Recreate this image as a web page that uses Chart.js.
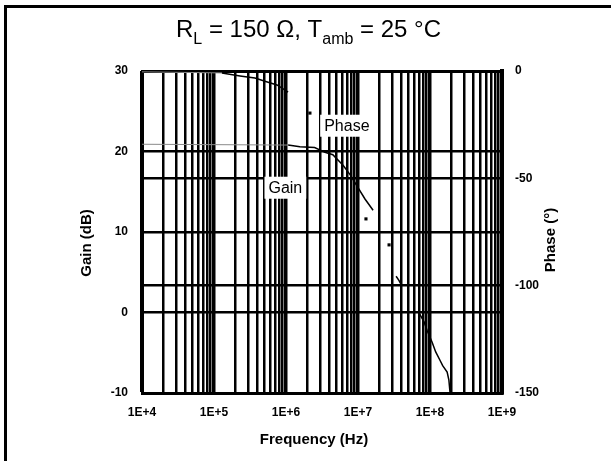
<!DOCTYPE html>
<html><head><meta charset="utf-8">
<script src="https://cdn.jsdelivr.net/npm/chart.js@4"></script>
<style>
html,body{margin:0;padding:0;background:#fff;overflow:hidden;}
#wrap{position:relative;width:611px;height:461px;overflow:hidden;background:#fff;}
canvas{position:absolute;left:0;top:0;}
#ftop{position:absolute;left:4px;top:5px;width:607px;height:3px;background:#000;}
#fleft{position:absolute;left:4px;top:5px;width:3px;height:456px;background:#000;}
#title{position:absolute;left:0;top:15px;width:617px;text-align:center;font-family:"Liberation Sans",Arial,sans-serif;font-size:24px;line-height:27px;color:#000;white-space:nowrap;}
#title sub{font-size:16px;vertical-align:-7px;line-height:0;}
</style></head>
<body>
<div id="wrap">
<canvas id="c" width="611" height="461"></canvas>
<div id="ftop"></div><div id="fleft"></div>
<div id="title">R<sub>L</sub> = 150 Ω, T<sub>amb</sub> = 25 °C</div>
</div>
<script>
// ---- data ----
const decadeTicks = [1e4, 1e5, 1e6, 1e7, 1e8, 1e9];
const decadeLabels = ['1E+4', '1E+5', '1E+6', '1E+7', '1E+8', '1E+9'];
const minorSteps = [2, 3, 4, 5, 6, 7, 8, 9];
const gainTicks = [-10, 0, 10, 20, 30];
const phaseTicks = [-150, -100, -50, 0];

const gainFreqHz = [1.0e4, 1.07e6, 1.56e6, 2.5e6, 3.48e6, 4.47e6, 6.2e6, 7.8e6, 1.0e7, 1.25e7, 1.62e7,
  null, 2.7e7, null, 3.38e7, 3.7e7, 4.07e7, null,
  7.2e7, 8.3e7, 9.1e7, 1.07e8, 1.2e8, 1.37e8, 1.5e8, 1.73e8, 1.83e8, 1.9e8];
const gainDb = [20.9, 20.8, 20.6, 20.5, 19.9, 19.6, 18.3, 17.1, 15.5, 14.1, 12.7,
  null, 8.4, null, 4.5, 4.0, 3.3, null,
  -0.2, -1.2, -2.2, -3.7, -4.9, -5.9, -6.6, -7.4, -8.4, -10.0];

const phaseFreqHz = [1.0e4, 1.29e5, 2.3e5, 3.7e5, 5.5e5, 7.5e5, 1.07e6, null, 2.15e6, null, 1.29e7];
const phaseDeg = [-0.4, -0.9, -2.3, -3.3, -5.1, -6.5, -9.8, null, -19.6, null, -68.9];

// ---- helpers ----
const FONT = '"Liberation Sans", Arial, Helvetica, sans-serif';
const gridValues = [];
decadeTicks.forEach((d, i) => {
  gridValues.push(d);
  if (i < decadeTicks.length - 1) minorSteps.forEach(m => gridValues.push(m * d));
});
const decadeIndex = v => decadeTicks.findIndex(d => Math.abs(v - d) / d < 1e-9);
const toPoints = (xs, ys) => xs.map((x, i) => ({x: x, y: ys[i]}));
const isolatedRadius = ctx => {
  const d = ctx.dataset.data, i = ctx.dataIndex;
  const cur = d[i], prev = d[i - 1], next = d[i + 1];
  if (!cur || cur.y == null) return 0;
  return ((!prev || prev.y == null) && (!next || next.y == null)) ? 2.2 : 0;
};

const annot = {
  id: 'annot',
  afterDatasetsDraw(chart) {
    const c = chart.ctx, xs = chart.scales.x, ys = chart.scales.y, ps = chart.scales.y1;
    c.save();
    c.font = '16px ' + FONT;
    c.textAlign = 'center';
    c.textBaseline = 'middle';
    const boxes = [
      {t: 'Gain', x: xs.getPixelForValue(9.8e5), y: ys.getPixelForValue(15.5)},
      {t: 'Phase', x: xs.getPixelForValue(7.0e6), y: ps.getPixelForValue(-25.5)}
    ];
    boxes.forEach(b => {
      const w = c.measureText(b.t).width + 8;
      c.fillStyle = '#fff';
      c.fillRect(b.x - w / 2, b.y - 11, w, 22);
      c.fillStyle = '#000';
      c.fillText(b.t, b.x, b.y + 1);
    });
    c.restore();
  },
  afterDraw(chart) {
    const c = chart.ctx;
    c.save();
    c.fillStyle = '#000';
    c.font = 'bold 15px ' + FONT;
    c.textAlign = 'center';
    c.textBaseline = 'middle';
    c.fillText('Frequency (Hz)', 314, 440);
    c.translate(87, 243); c.rotate(-Math.PI / 2); c.fillText('Gain (dB)', 0, 0);
    c.setTransform(1, 0, 0, 1, 0, 0);
    c.translate(551, 240); c.rotate(-Math.PI / 2); c.fillText('Phase (°)', 0, 0);
    c.restore();
  }
};

new Chart(document.getElementById('c'), {
  type: 'line',
  data: {
    datasets: [
      {
        label: 'Gain', yAxisID: 'y',
        data: toPoints(gainFreqHz, gainDb),
        borderColor: '#000', borderWidth: 1.5, fill: false, tension: 0, spanGaps: false,
        pointRadius: isolatedRadius, pointStyle: 'rect', pointBackgroundColor: '#000', pointBorderWidth: 0,
        segment: {
          borderColor: s => s.p1.parsed.x <= 1.07e6 ? '#8a8a8a' : '#000',
          borderWidth: s => s.p1.parsed.x <= 1.07e6 ? 1 : 1.5
        }
      },
      {
        label: 'Phase', yAxisID: 'y1',
        data: toPoints(phaseFreqHz, phaseDeg),
        borderColor: '#000', borderWidth: 1.5, fill: false, tension: 0, spanGaps: false,
        pointRadius: isolatedRadius, pointStyle: 'rect', pointBackgroundColor: '#000', pointBorderWidth: 0,
        segment: {
          borderColor: s => s.p1.parsed.x <= 1.29e5 ? '#8a8a8a' : '#000',
          borderWidth: s => s.p1.parsed.x <= 1.29e5 ? 1 : 1.5
        }
      }
    ]
  },
  options: {
    responsive: false, animation: false, events: [],
    layout: {padding: {top: 71, left: 0, right: 0, bottom: 0}},
    plugins: {legend: {display: false}, tooltip: {enabled: false}, title: {display: false}},
    scales: {
      x: {
        type: 'logarithmic', position: 'bottom',
        min: decadeTicks[0], max: decadeTicks[decadeTicks.length - 1],
        afterBuildTicks: s => { s.ticks = gridValues.map(v => ({value: v})); },
        afterFit: s => { s.height = 68; },
        ticks: {
          autoSkip: false, maxRotation: 0, minRotation: 0, padding: 12, color: '#000',
          font: {family: FONT, size: 12, weight: 'bold'},
          callback: v => { const i = decadeIndex(v); return i >= 0 ? decadeLabels[i] : ''; }
        },
        grid: {color: '#000', drawTicks: false, lineWidth: c => (c.tick && decadeIndex(c.tick.value) >= 0) ? 3.5 : 2.5},
        border: {display: true, color: '#000', width: 3}
      },
      y: {
        position: 'left', min: gainTicks[0], max: gainTicks[gainTicks.length - 1],
        afterBuildTicks: s => { s.ticks = gainTicks.map(v => ({value: v})); },
        afterFit: s => { s.width = 142; },
        ticks: {padding: 14, color: '#000', font: {family: FONT, size: 12, weight: 'bold'}, callback: v => String(v)},
        grid: {color: '#000', drawTicks: false, lineWidth: c => (c.tick && c.tick.value === 30) ? 3 : 2.5},
        border: {display: true, color: '#000', width: 3}
      },
      y1: {
        position: 'right', min: phaseTicks[0], max: phaseTicks[phaseTicks.length - 1],
        afterBuildTicks: s => { s.ticks = phaseTicks.map(v => ({value: v})); },
        afterFit: s => { s.width = 109; },
        ticks: {padding: 13, color: '#000', font: {family: FONT, size: 12, weight: 'bold'}, callback: v => String(v)},
        grid: {color: '#000', drawTicks: false, drawOnChartArea: true, lineWidth: c => (c.tick && c.tick.value === 0) ? 3 : 2.5},
        border: {display: true, color: '#000', width: 4}
      }
    }
  },
  plugins: [annot]
});
</script>
</body></html>
